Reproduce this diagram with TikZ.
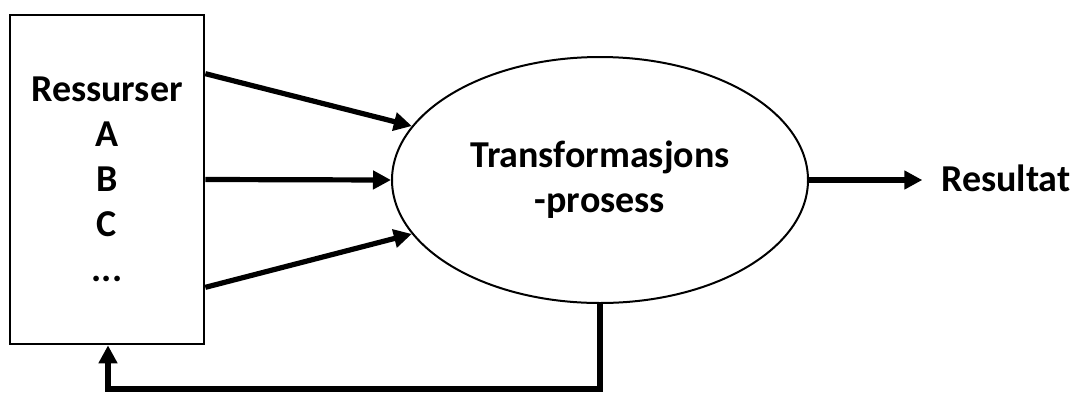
\documentclass[tikz,border=0pt]{standalone}
\usepackage{fontspec}
\setmainfont{Carlito}
\usetikzlibrary{arrows.meta,shapes.geometric}

\begin{document}
\begin{tikzpicture}[x=0.75pt,y=-0.75pt,
  lbl/.style={font=\fontsize{28.5}{33.75}\selectfont\bfseries, align=center},
  flow/.style={line width=3.9pt, -{Triangle[length=13.5pt,width=13.5pt]}, line join=miter},
]
  \useasboundingbox (0,0) rectangle (1072,394);

  % resource box
  \node[lbl, draw, line width=2pt, minimum width=145.5pt, minimum height=246.75pt,
        inner sep=0pt] (box) at (107,179.5)
        {Ressurser\\A\\B\\C\\...};

  % transformation process
  \node[lbl, ellipse, draw, line width=1.5pt, minimum width=312pt,
        minimum height=184.5pt, inner sep=0pt] (proc) at (600,180)
        {Transformasjons\\-prosess};

  % result label
  \node[lbl, anchor=base west, inner sep=0pt] (res) at (941,191) {Resultat};

  % inputs
  \draw[flow] ([yshift=-45pt]box.north east) -- (proc.164);
  \draw[flow] (box.east) -- (proc.west);
  \draw[flow] ([yshift=43.5pt]box.south east) -- (proc.196);

  % output
  \draw[flow, shorten >=14pt] (proc.east) -- (proc.east -| res.west);

  % feedback loop
  \coordinate (fb) at (108,389);
  \draw[flow] (proc.south) |- (fb) -- (fb |- box.south);
\end{tikzpicture}
\end{document}
